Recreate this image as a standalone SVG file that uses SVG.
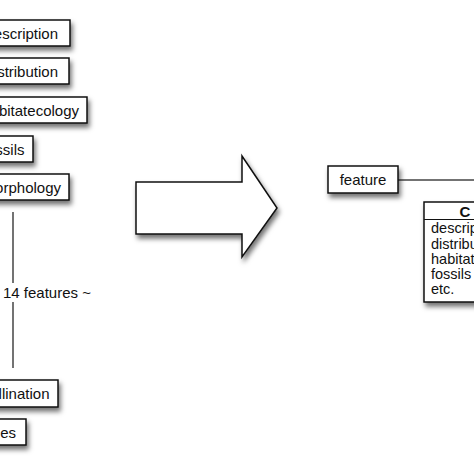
<svg xmlns="http://www.w3.org/2000/svg" width="474" height="474" viewBox="0 0 474 474">
<defs>
<filter id="sh" x="-20%" y="-20%" width="150%" height="160%">
<feDropShadow dx="2" dy="4" stdDeviation="2.5" flood-color="#000" flood-opacity="0.55"/>
</filter>
<style>
.box{fill:#fff;stroke:#111;stroke-width:1.5;filter:url(#sh)}
.t{font-family:"Liberation Sans",Arial,sans-serif;font-size:15px;fill:#111}
.c{font-size:14.5px}
.e{text-anchor:end}
.ln{stroke:#444;stroke-width:1.5;fill:none}
</style>
</defs>
<rect width="474" height="474" fill="#fff"/>
<g id="n-description"><rect class="box" x="-20" y="20" width="90" height="26"/><text class="t e" x="58" y="38.5">description</text></g>
<g id="n-distribution"><rect class="box" x="-20" y="58" width="89" height="26"/><text class="t e" x="58" y="76.5">distribution</text></g>
<g id="n-habitatecology"><rect class="box" x="-20" y="97" width="107" height="26"/><text class="t e" x="79" y="115.5">habitatecology</text></g>
<g id="n-fossils"><rect class="box" x="-20" y="136" width="53" height="26"/><text class="t e" x="24.5" y="154.5">fossils</text></g>
<g id="n-morphology"><rect class="box" x="-20" y="174" width="89" height="26"/><text class="t e" x="61" y="192.5">morphology</text></g>
<g id="n-pollination"><rect class="box" x="-20" y="380" width="78" height="27"/><text class="t e" x="49.5" y="398.5">pollination</text></g>
<g id="n-es"><rect class="box" x="-20" y="419" width="46" height="26"/><text class="t e" x="16" y="437.5">es</text></g>
<g id="connectors">
<line class="ln" x1="13" y1="212" x2="13" y2="283"/>
<line class="ln" x1="13" y1="302" x2="13" y2="368"/>
<line class="ln" x1="398" y1="180" x2="474" y2="180"/>
</g>
<text class="t" x="3" y="297.5">14 features ~</text>
<g id="n-arrow"><polygon class="box" points="136,182 242,182 242,156 277,208 242,257 242,234 136,234"/></g>
<g id="n-feature"><rect class="box" x="328" y="166" width="70" height="27"/><text class="t" x="363" y="185" text-anchor="middle">feature</text></g>
<g id="n-class"><rect class="box" x="424" y="202" width="70" height="100"/>
<line x1="424" y1="219.5" x2="494" y2="219.5" stroke="#111" stroke-width="1.2"/>
<text class="t" x="465" y="216.5" style="font-weight:bold" text-anchor="middle">C</text>
<text class="t c" x="431" y="233">description</text>
<text class="t c" x="431" y="248.5">distribution</text>
<text class="t c" x="431" y="264">habitatecology</text>
<text class="t c" x="431" y="279">fossils</text>
<text class="t c" x="431" y="294">etc.</text>
</g>
</svg>
